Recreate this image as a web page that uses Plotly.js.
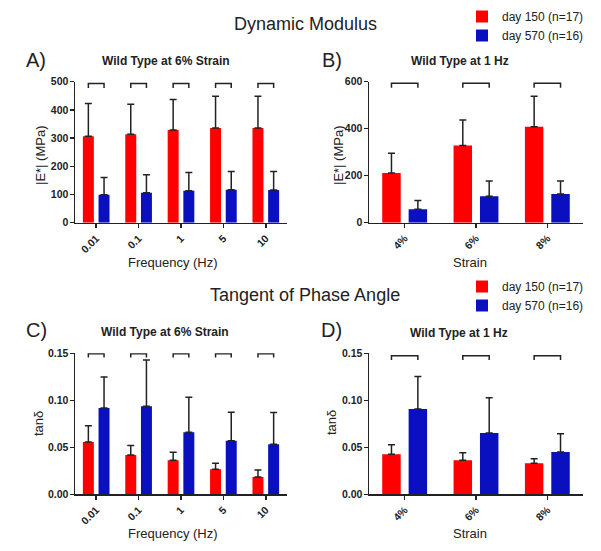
<!DOCTYPE html>
<html>
<head>
<meta charset="utf-8">
<script src="https://cdn.plot.ly/plotly-3.0.1.min.js"></script>
<style>html,body{margin:0;padding:0;background:#fff;}#chart{width:601px;height:551px;}</style>
</head>
<body>
<div id="chart"></div>
<script>
// ---- data ----
const freqCats = ['0.01', '0.1', '1', '5', '10'];
const strainCats = ['4%', '6%', '8%'];
const seriesNames = ['day 150 (n=17)', 'day 570 (n=16)'];

const modFreqD150 = [307, 314, 329, 336, 336];
const modFreqD150Err = [116, 106, 108, 112, 112];
const modFreqD570 = [99, 106, 113, 117, 116];
const modFreqD570Err = [61, 64, 65, 65, 66];

const modStrainD150 = [211, 328, 408];
const modStrainD150Err = [85, 109, 130];
const modStrainD570 = [57, 113, 122];
const modStrainD570Err = [38, 64, 55];

const tanFreqD150 = [0.0557, 0.0418, 0.0362, 0.0266, 0.0184];
const tanFreqD150Err = [0.0173, 0.0100, 0.0085, 0.0064, 0.0075];
const tanFreqD570 = [0.0918, 0.0936, 0.0660, 0.0571, 0.0532];
const tanFreqD570Err = [0.0330, 0.0493, 0.0372, 0.0301, 0.0337];

const tanStrainD150 = [0.0426, 0.0362, 0.0330];
const tanStrainD150Err = [0.0102, 0.0081, 0.0049];
const tanStrainD570 = [0.0908, 0.0652, 0.0450];
const tanStrainD570Err = [0.0344, 0.0376, 0.0195];

// ---- style ----
const RED = '#ff0000';
const BLUE = '#0a10c0';
const INK = '#222222';
const FONT = 'Liberation Sans, Arial, sans-serif';
const BARGAP = 0.26;

function barTrace(cats, vals, errs, name, color, xa, ya, legend, show) {
  return {
    type: 'bar', x: cats, y: vals, name: name,
    xaxis: xa, yaxis: ya, legend: legend, showlegend: show,
    marker: {color: color, line: {width: 0}},
    error_y: {type: 'data', array: errs, arrayminus: errs.map(() => 0), symmetric: false,
              color: INK, thickness: 1.5, width: 3.5},
    hoverinfo: 'x+y'
  };
}

const panels = [
  {cats: freqCats, a: modFreqD150, ae: modFreqD150Err, b: modFreqD570, be: modFreqD570Err, xa: 'x', ya: 'y', legend: 'legend', show: true},
  {cats: strainCats, a: modStrainD150, ae: modStrainD150Err, b: modStrainD570, be: modStrainD570Err, xa: 'x2', ya: 'y2', legend: 'legend', show: false},
  {cats: freqCats, a: tanFreqD150, ae: tanFreqD150Err, b: tanFreqD570, be: tanFreqD570Err, xa: 'x3', ya: 'y3', legend: 'legend2', show: true},
  {cats: strainCats, a: tanStrainD150, ae: tanStrainD150Err, b: tanStrainD570, be: tanStrainD570Err, xa: 'x4', ya: 'y4', legend: 'legend2', show: false}
];

const data = [];
panels.forEach(p => {
  data.push(barTrace(p.cats, p.a, p.ae, seriesNames[0], RED, p.xa, p.ya, p.legend, p.show));
  data.push(barTrace(p.cats, p.b, p.be, seriesNames[1], BLUE, p.xa, p.ya, p.legend, p.show));
});

// significance brackets spanning the two bars of each group
const bracketLevels = [[494, 478], [593, 574], [0.1495, 0.1455], [0.1475, 0.143]];
const off = (1 - BARGAP) / 4;
const shapes = [];
panels.forEach((p, k) => {
  const [top, foot] = bracketLevels[k];
  p.cats.forEach((c, i) => {
    shapes.push({
      type: 'path', xref: p.xa, yref: p.ya,
      path: `M ${i - off},${foot} L ${i - off},${top} L ${i + off},${top} L ${i + off},${foot}`,
      line: {color: INK, width: 1.5}
    });
  });
});

const W = 601, H = 551;
const px = v => v / W;
const py = v => 1 - v / H;

function xaxis(domain, anchor) {
  return {
    domain: domain, anchor: anchor, type: 'category',
    showline: true, linecolor: INK, linewidth: 1.5,
    ticks: 'outside', ticklen: 4, tickwidth: 1.5, tickcolor: INK,
    tickangle: -45, showgrid: false, zeroline: false,
    tickfont: {family: FONT, size: 10.5, color: INK, weight: 'bold'},
    fixedrange: true
  };
}
function yaxis(domain, anchor, range, dtick, fmt) {
  return {
    domain: domain, anchor: anchor, range: range, dtick: dtick, tickformat: fmt,
    showline: true, linecolor: INK, linewidth: 1.5,
    ticks: 'outside', ticklen: 4, tickwidth: 1.5, tickcolor: INK,
    ticklabelstandoff: -1,
    showgrid: false, zeroline: false,
    tickfont: {family: FONT, size: 10.5, color: INK, weight: 'bold'},
    fixedrange: true
  };
}

const xL = [px(75), px(287)], xR = [px(369), px(583)];
const yT = [py(222.7), py(81.7)], yB = [py(494.3), py(353.3)];

function ann(text, x, y, size, bold, angle) {
  return {text: text, x: px(x), y: py(y), xref: 'paper', yref: 'paper',
          xanchor: 'center', yanchor: 'middle', showarrow: false, textangle: angle || 0,
          font: {family: FONT, size: size, color: INK, weight: bold ? 'bold' : 'normal'}};
}

const annotations = [
  ann('Dynamic Modulus', 305, 24, 18, false),
  ann('Tangent of Phase Angle', 305, 295, 18, false),
  ann('A)', 36, 60, 20, false),
  ann('B)', 332, 60, 20, false),
  ann('C)', 36, 330, 20, false),
  ann('D)', 331, 330, 20, false),
  ann('Wild Type at 6% Strain', 166, 61, 12, true),
  ann('Wild Type at 1 Hz', 460, 61, 12, true),
  ann('Wild Type at 6% Strain', 165, 332, 12, true),
  ann('Wild Type at 1 Hz', 459, 333, 12, true),
  // axis titles
  ann('Frequency (Hz)', 173, 262, 13, false),
  ann('Strain', 470, 262, 13, false),
  ann('Frequency (Hz)', 173, 533, 13, false),
  ann('Strain', 470, 533, 13, false),
  ann('|E*| (MPa)', 41, 156, 13, false, -90),
  ann('|E*| (MPa)', 339, 156, 13, false, -90),
  ann('tanδ', 38, 424, 13, false, -90),
  ann('tanδ', 331, 423, 13, false, -90)
];

const legendStyle = {
  xanchor: 'left', yanchor: 'top', bgcolor: 'rgba(0,0,0,0)',
  font: {family: FONT, size: 12, color: INK}, tracegroupgap: 0, itemclick: false, itemdoubleclick: false
};

const layout = {
  width: W, height: H,
  margin: {l: 0, r: 0, t: 0, b: 0},
  paper_bgcolor: '#ffffff', plot_bgcolor: '#ffffff',
  barmode: 'group', bargap: BARGAP, bargroupgap: 0.3,
  font: {family: FONT, color: INK},
  xaxis: xaxis(xL, 'y'),
  yaxis: yaxis(yT, 'x', [0, 500], 100, 'd'),
  xaxis2: xaxis(xR, 'y2'),
  yaxis2: yaxis(yT, 'x2', [0, 600], 200, 'd'),
  xaxis3: xaxis(xL, 'y3'),
  yaxis3: yaxis(yB, 'x3', [0, 0.15], 0.05, '.2f'),
  xaxis4: xaxis(xR, 'y4'),
  yaxis4: yaxis(yB, 'x4', [0, 0.15], 0.05, '.2f'),
  legend: Object.assign({x: px(462), y: py(2)}, legendStyle),
  legend2: Object.assign({x: px(462), y: py(272)}, legendStyle),
  shapes: shapes,
  annotations: annotations,
  showlegend: true
};

Plotly.newPlot('chart', data, layout, {displayModeBar: false, staticPlot: true});
</script>
</body>
</html>
